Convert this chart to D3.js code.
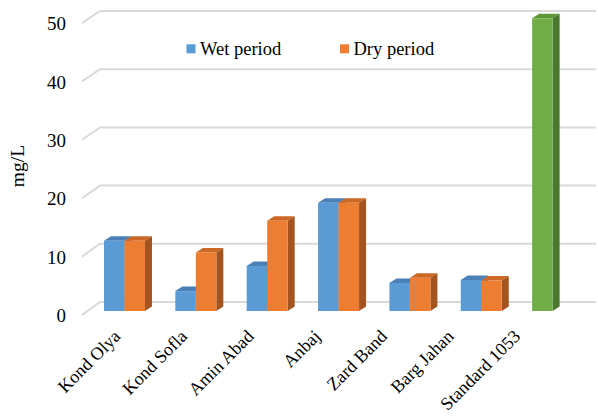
<!DOCTYPE html>
<html>
<head>
<meta charset="utf-8">
<script src="https://cdn.jsdelivr.net/npm/d3@7/dist/d3.min.js"></script>
<style>
  html, body { margin: 0; padding: 0; background: #fff; }
  svg { display: block; }
  text { font-family: "Liberation Serif", "Times New Roman", serif; fill: #000; }
</style>
</head>
<body>
<svg id="chart" width="598" height="416"></svg>
<script>
// Sampling sites and measured concentrations (mg/L)
const categories = ["Kond Olya", "Kond Sofla", "Amin Abad", "Anbaj", "Zard Band", "Barg Jahan", "Standard 1053"];
const wetPeriod = [12, 3.4, 7.7, 18.5, 4.8, 5.3, 50];
const dryPeriod = [12, 10, 15.4, 18.5, 5.7, 5.2, null];
const seriesNames = ["Wet period", "Dry period"];
const yTicks = [0, 10, 20, 30, 40, 50];

const svg = d3.select("#chart");

// Face colours: front, top, side
const palette = {
  wet: { front: "#5b9bd5", top: "#4a80b6", side: "#3e6e9e" },
  dry: { front: "#ed7d31", top: "#cc6726", side: "#a3541f" },
  std: { front: "#70ad47", top: "#5e9739", side: "#4b782f" }
};

// Oblique depth offset of the 3-D columns
const depth = { dx: 7, dy: -4.5 };

// Scales: back wall, front floor edge, and column front face
const yBack = d3.scaleLinear().domain([0, 50]).range([302, 11]);
const yFront = d3.scaleLinear().domain([0, 50]).range([315, 23]);
const yBar = d3.scaleLinear().domain([0, 50]).range([311, 18.3]);

const x = d3.scaleBand().domain(categories).range([88.8, 588.3])
  .paddingInner(0.4254).paddingOuter(0.2127);
const xInner = d3.scaleBand().domain(["wet", "dry"]).range([0, x.bandwidth()]);
const xLabel = d3.scalePoint().domain(categories).range([117, 517]);

// Gridlines: diagonal floor edge then horizontal back-wall line
const grid = svg.append("g").attr("fill", "none").attr("stroke", "#d9d9d9").attr("stroke-width", 2);
yTicks.forEach(v => {
  grid.append("path")
    .attr("d", d3.line()([[82, yFront(v)], [100, yBack(v)], [596, yBack(v)]]));
});

// Y tick labels
svg.append("g").selectAll("text").data(yTicks).join("text")
  .attr("x", 66).attr("y", d => yFront(d) + 0.5)
  .attr("dy", "0.35em").attr("text-anchor", "end")
  .style("font-size", "19px").text(d => d);

// Axis title
svg.append("text")
  .attr("transform", "translate(24,166) rotate(-90)")
  .attr("text-anchor", "middle").style("font-size", "19.5px").text("mg/L");

// 3-D columns
const bars = [];
categories.forEach((c, i) => {
  const isStd = c === "Standard 1053";
  bars.push({ cat: c, key: "wet", value: wetPeriod[i], col: isStd ? palette.std : palette.wet });
  if (dryPeriod[i] != null) bars.push({ cat: c, key: "dry", value: dryPeriod[i], col: palette.dry });
});

const barG = svg.append("g");
bars.forEach(b => {
  const x0 = x(b.cat) + xInner(b.key);
  const x1 = x0 + xInner.bandwidth();
  const yt = yBar(b.value);
  const yb = yBar(0);
  const g = barG.append("g");
  // top face
  g.append("path").attr("fill", b.col.top)
    .attr("d", d3.line()([[x0, yt], [x0 + depth.dx, yt + depth.dy], [x1 + depth.dx, yt + depth.dy], [x1, yt]]) + "Z");
  // side face
  g.append("path").attr("fill", b.col.side)
    .attr("d", d3.line()([[x1, yt], [x1 + depth.dx, yt + depth.dy], [x1 + depth.dx, yb + depth.dy], [x1, yb]]) + "Z");
  // front face
  g.append("rect").attr("fill", b.col.front)
    .attr("x", x0).attr("y", yt).attr("width", x1 - x0).attr("height", yb - yt);
});

// Category labels
svg.append("g").selectAll("text").data(categories).join("text")
  .attr("transform", d => `translate(${xLabel(d)},333) rotate(-45)`)
  .attr("text-anchor", "end").attr("dy", "0.35em")
  .style("font-size", "18px").text(d => d);

// Legend
const legend = svg.append("g");
const legendX = [186.5, 340];
seriesNames.forEach((name, i) => {
  legend.append("rect").attr("x", legendX[i]).attr("y", 44.3).attr("width", 9).attr("height", 9)
    .attr("fill", i === 0 ? palette.wet.front : palette.dry.front);
  legend.append("text").attr("x", legendX[i] + 13.5).attr("y", 55)
    .style("font-size", "18.5px").text(name);
});
</script>
</body>
</html>
